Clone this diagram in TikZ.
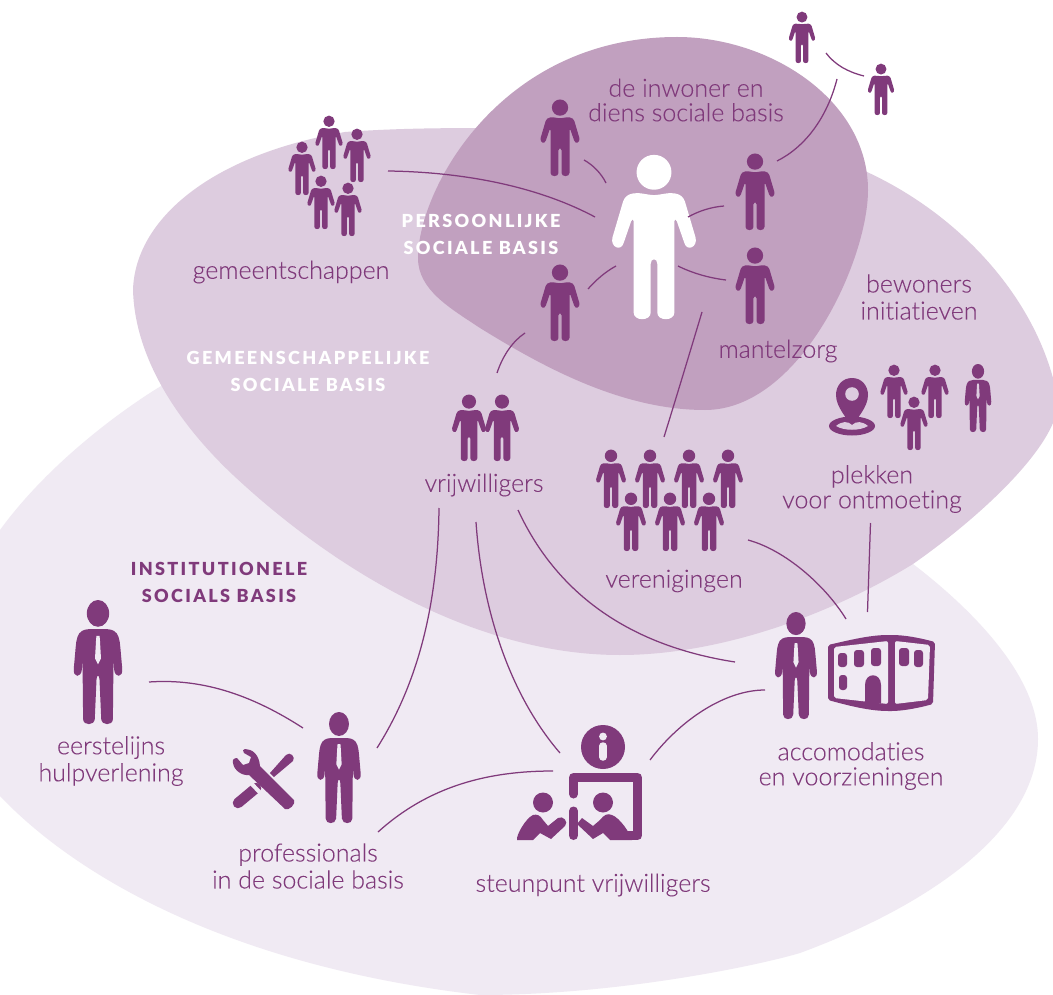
\documentclass[tikz,border=0pt]{standalone}
\usepackage{fontspec}
\setmainfont{Lato}[UprightFont=* Light,BoldFont=* Black,Ligatures={NoCommon}]
\newfontfamily\labelfont{Lato Light}[Ligatures={NoCommon},FakeBold=0.12]
\definecolor{ink}{HTML}{803A7B}
\definecolor{blobA}{HTML}{F0EAF3}
\definecolor{blobB}{HTML}{DDCCDF}
\definecolor{blobC}{HTML}{C1A0BF}
\newcommand{\manshape}[2]{%
  \begin{scope}[shift={(#1)},scale=#2]
  \fill (0,10) circle (10.7);
  \fill (0,24) .. controls (4,24) and (9,22) .. (13,23) .. controls (16,23.5) and (18,25) .. (19,28)
    -- (25.5,50) .. controls (27,56) and (20,59) .. (18.5,53) -- (14,40) .. controls (13.5,38.5) and (12.5,38.5) .. (12.5,40)
    -- (12.5,96) .. controls (12.5,101.5) and (2,101.5) .. (2,96) -- (2,66) .. controls (2,62.5) and (-2,62.5) .. (-2,66)
    -- (-2,96) .. controls (-2,101.5) and (-12.5,101.5) .. (-12.5,96) -- (-12.5,40) .. controls (-12.5,38.5) and (-13.5,38.5) .. (-14,40)
    -- (-18.5,53) .. controls (-20,59) and (-27,56) .. (-25.5,50) -- (-19,28) .. controls (-18,25) and (-16,23.5) .. (-13,23)
    .. controls (-9,22) and (-4,24) .. (0,24) -- cycle;
  \end{scope}}
\newcommand{\suitshape}[3]{%
  \begin{scope}[shift={(#1)},scale=#2]
  \fill[ink] (0,10.8) ellipse (9 and 10.8);
  \fill[ink] (0,23.5) .. controls (5,23.5) and (10,23) .. (13,25) .. controls (16.5,27) and (17.5,32) .. (18,38)
    -- (19.5,55) .. controls (20.5,63) and (13.5,63) .. (13,56) -- (12.5,48) -- (12,96) .. controls (12,101.5) and (3,101.5) .. (2.6,96)
    -- (1.2,64) .. controls (1,60) and (-1,60) .. (-1.2,64) -- (-2.6,96) .. controls (-3,101.5) and (-12,101.5) .. (-12,96)
    -- (-12.5,48) -- (-13,56) .. controls (-13.5,63) and (-20.5,63) .. (-19.5,55) -- (-18,38) .. controls (-17.5,32) and (-16.5,27) .. (-13,25)
    .. controls (-10,23) and (-5,23.5) .. (0,23.5) -- cycle;
  \fill[#3] (-1.3,29) -- (1.3,29) -- (1.6,33) -- (2.4,47) -- (0,52) -- (-2.4,47) -- (-1.6,33) -- cycle;
  \end{scope}}
\tikzset{
  label text/.style={text=ink,align=center,font=\labelfont\fontsize{25}{27}\selectfont,inner sep=0pt},
  head text/.style={align=center,font=\addfontfeature{LetterSpace=13}\bfseries\fontsize{18}{27.5}\selectfont,inner sep=0pt},
  link/.style={draw=ink,line width=1.25pt},
  man/.style={fill=ink}
}
\begin{document}
\begin{tikzpicture}[x=1pt,y=-1pt]
\useasboundingbox (0,0) rectangle (1053,995);
\clip (0,0) rectangle (1053,995);
\fill[white] (0,0) rectangle (1053,995);
% blobs
\fill[blobA] (153,391) .. controls (100,425) and (40,475) .. (0,530) .. controls (-40,585) and (-40,740) .. (0,796)
  .. controls (70,870) and (220,965) .. (480,995) .. controls (620,995) and (760,965) .. (800,953)
  .. controls (930,905) and (1038,830) .. (1038,739) .. controls (1038,670) and (960,600) .. (913,564) -- (600,400) -- (200,362) -- cycle;
\fill[blobB] (133,290) .. controls (135,220) and (210,155) .. (345,132) .. controls (480,122) and (640,135) .. (700,130)
  .. controls (760,130) and (820,150) .. (867,172) .. controls (960,215) and (1040,300) .. (1058,400)
  .. controls (1060,440) and (990,510) .. (913,564) .. controls (830,615) and (720,655) .. (620,655)
  .. controls (480,655) and (340,575) .. (233,475) .. controls (180,425) and (135,360) .. (133,290) -- cycle;
\fill[blobC] (677,37) .. controls (770,37) and (868,100) .. (868,190) .. controls (868,260) and (800,410) .. (705,410)
  .. controls (620,410) and (540,365) .. (480,328) .. controls (450,308) and (418,290) .. (418,258)
  .. controls (418,190) and (500,37) .. (677,37) -- cycle;
% plain people
\begin{scope}[ink]
\manshape{802,12}{0.51}\manshape{881,64}{0.51}
\manshape{560,100}{0.76}\manshape{755,154}{0.76}\manshape{560,265}{0.76}\manshape{755,248}{0.76}
\manshape{302,142}{0.53}\manshape{329,116}{0.53}\manshape{357,129}{0.53}\manshape{321,176}{0.53}\manshape{348,183}{0.53}
\manshape{469,395}{0.66}\manshape{502,395}{0.66}
\manshape{611,450}{0.58}\manshape{650,450}{0.58}\manshape{689,450}{0.58}\manshape{728,450}{0.58}
\manshape{631,493}{0.58}\manshape{670,493}{0.58}\manshape{709,493}{0.58}
\manshape{894,365}{0.53}\manshape{935,365}{0.53}\manshape{914,397}{0.53}
\end{scope}
\begin{scope}[white]\manshape{654,156}{1.63}\end{scope}
% suited people
\suitshape{978,364}{0.68}{blobB}
\suitshape{98,600}{1.24}{blobA}
\suitshape{339,712}{1.11}{blobA}
\suitshape{796,612}{1.07}{blobA}
% pin
\fill[ink] (852,378) .. controls (842,378) and (836,386) .. (836,395) .. controls (836,407) and (847,418) .. (852,427)
  .. controls (857,418) and (868,407) .. (868,395) .. controls (868,386) and (862,378) .. (852,378) -- cycle;
\fill[blobB] (852,394) circle (6.8);
\fill[ink] (852,426) ellipse (23 and 9.5);
\fill[blobB] (836,426) .. controls (842,421) and (848,421) .. (852,425) .. controls (856,421) and (862,421) .. (868,426) .. controls (860,431) and (844,431) .. (836,426) -- cycle;
% tools
\draw[ink,line width=10.5pt,line cap=round] (238,803) -- (256,788);
\draw[blobA,line width=4pt] (249,781) -- (266,799);
\fill[ink] (245,749) .. controls (252,749) and (259,754) .. (260,766) -- (294,800) .. controls (296,804) and (289,811) .. (285,809)
  -- (249,775) .. controls (243,776) and (234,771) .. (233,763) .. controls (232,760) and (234,758) .. (237,758)
  -- (243,765) -- (249,763) -- (251,757) -- (244,753) .. controls (242,751) and (243,749) .. (245,749) -- cycle;
\fill[ink] (270,773) -- (286,755) .. controls (290,751) and (296,757) .. (293,761) -- (274,777) -- cycle;
% steunpunt
\fill[ink] (603,747) circle (22);
\fill[blobA] (603,736.5) circle (3.9);
\draw[blobA,line width=7.5pt,line cap=round] (603,746) -- (603,757);
\draw[ink,line width=9pt,line cap=round,line join=round] (573.5,794) -- (573.5,777.5) -- (637.5,777.5) -- (637.5,835.5) -- (620,835.5);
\draw[ink,line width=9pt,line cap=round] (573.5,811) -- (573.5,835.5);
\fill[ink] (543,802.5) circle (10);
\fill[ink] (603,802.5) circle (10);
\fill[ink] (517,840) .. controls (516,835) and (526,818) .. (533,815) .. controls (537,814) and (540,815) .. (543,820) -- (548,826) -- (558,818)
  .. controls (563,815) and (569,822) .. (565,826) -- (551,839) -- (540,833) -- (533,840) -- cycle;
\fill[ink] (577,824) -- (582,818) -- (593,826) -- (600,820) .. controls (604,815) and (607,813) .. (612,815) .. controls (620,818) and (630,833) .. (632,840) -- (610,840) -- (603,833) -- (593,839) -- cycle;
% building
\fill[ink,rounded corners=2pt] (828,645) .. controls (850,640) and (870,635) .. (890,635) .. controls (905,635) and (920,638) .. (935,642)
  -- (933,704) .. controls (915,709) and (900,711) .. (890,711) .. controls (870,711) and (850,706) .. (828,700) -- cycle;
\fill[blobA,rounded corners=2pt] (834,647) -- (888,641) -- (888,704) -- (834,698) -- cycle;
\fill[blobA,rounded corners=2pt] (895,641) -- (930,645) -- (928,700) -- (895,704) -- cycle;
\begin{scope}[ink]
\foreach \xa/\ya/\xb/\yb in {838/653/847/667,854/650/864/667,871/648/881/666,899/648/909/666,914/650/923/667,839/675/847/690}
  \fill[rounded corners=3pt] (\xa,\ya) rectangle (\xb,\yb);
\fill (865,703) -- (865,685) .. controls (865,672) and (881,672) .. (881,685) -- (881,703) -- cycle;
\end{scope}
% labels
\node[label text] (lInwoner) at (686,100) {de inwoner en\\[-2.5pt]diens sociale basis};
\node[label text] (lGemeent) at (291,272) {gemeentschappen};
\node[label text] (lBewoners) at (919,297) {bewoners\\initiatieven};
\node[label text] (lMantel) at (778,351) {mantelzorg};
\node[label text] (lVrij) at (484,485) {vrijwilligers};
\node[label text] (lPlekken) at (872,489) {plekken\\[-2pt]voor ontmoeting};
\node[label text] (lVeren) at (674,581) {verenigingen};
\node[label text] (lEerste) at (111,761) {eerstelijns\\hulpverlening};
\node[label text] (lProf) at (308,866) {professionals\\in de sociale basis};
\node[label text] (lSteun) at (593,885) {steunpunt vrijwilligers};
\node[label text] (lAccom) at (851,766) {accomodaties\\[-2pt]en voorzieningen};
\node[head text,text=white] (hPers) at (481,234.5) {PERSOONLIJKE\\SOCIALE BASIS};
\node[head text,text=white] (hGem) at (308,371.5) {GEMEENSCHAPPELIJKE\\SOCIALE BASIS};
\node[head text,text=ink] (hInst) at (219,582.5) {INSTITUTIONELE\\SOCIALS BASIS};
% connector ends
\coordinate (a1) at (826,53); \coordinate (b1) at (864,76);
\coordinate (a2) at (837,79); \coordinate (b2) at (777,161);
\coordinate (a3) at (584,160); \coordinate (b3) at (606,183);
\coordinate (a4) at (388,171); \coordinate (b4) at (595,217);
\coordinate (a5) at (724,206); \coordinate (b5) at (688,217);
\coordinate (a6) at (678,266); \coordinate (b6) at (726,280);
\coordinate (a7) at (616,266); \coordinate (b7) at (588,289);
\coordinate (a8) at (525,333); \coordinate (b8) at (497,373);
\coordinate (a9) at (702,312); \coordinate (b9) at (664,437);
\coordinate (a10) at (439,508); \coordinate (b10) at (377,748);
\coordinate (a11) at (476,522); \coordinate (b11) at (560,753);
\coordinate (a12) at (518,510); \coordinate (b12) at (735,662);
\coordinate (a13) at (748,540); \coordinate (b13) at (846,619);
\coordinate (a14) at (870.5,523); \coordinate (b14) at (867.5,612);
\coordinate (a15) at (149,682); \coordinate (b15) at (303,728);
\coordinate (a16) at (378,832); \coordinate (b16) at (553,771);
\coordinate (a17) at (650,760); \coordinate (b17) at (765,690);
% connectors
\draw[link] (a1) .. controls (835,65) and (848,72) .. (b1);
\draw[link] (a2) .. controls (827,118) and (805,147) .. (b2);
\draw[link] (a3) .. controls (593,165) and (601,173) .. (b3);
\draw[link] (a4) .. controls (460,172) and (535,185) .. (b4);
\draw[link] (a5) .. controls (711,207) and (699,211) .. (b5);
\draw[link] (a6) .. controls (692,273) and (709,278) .. (b6);
\draw[link] (a7) .. controls (605,272) and (596,280) .. (b7);
\draw[link] (a8) .. controls (513,341) and (503,355) .. (b8);
\draw[link] (a9) .. controls (690,352) and (677,395) .. (b9);
\draw[link] (a10) .. controls (438,600) and (420,680) .. (b10);
\draw[link] (a11) .. controls (482,610) and (510,695) .. (b11);
\draw[link] (a12) .. controls (555,590) and (625,645) .. (b12);
\draw[link] (a13) .. controls (785,550) and (825,585) .. (b13);
\draw[link] (a14) -- (b14);
\draw[link] (a15) .. controls (205,678) and (255,697) .. (b15);
\draw[link] (a16) .. controls (430,785) and (490,771) .. (b16);
\draw[link] (a17) .. controls (680,720) and (725,690) .. (b17);
\end{tikzpicture}
\end{document}
